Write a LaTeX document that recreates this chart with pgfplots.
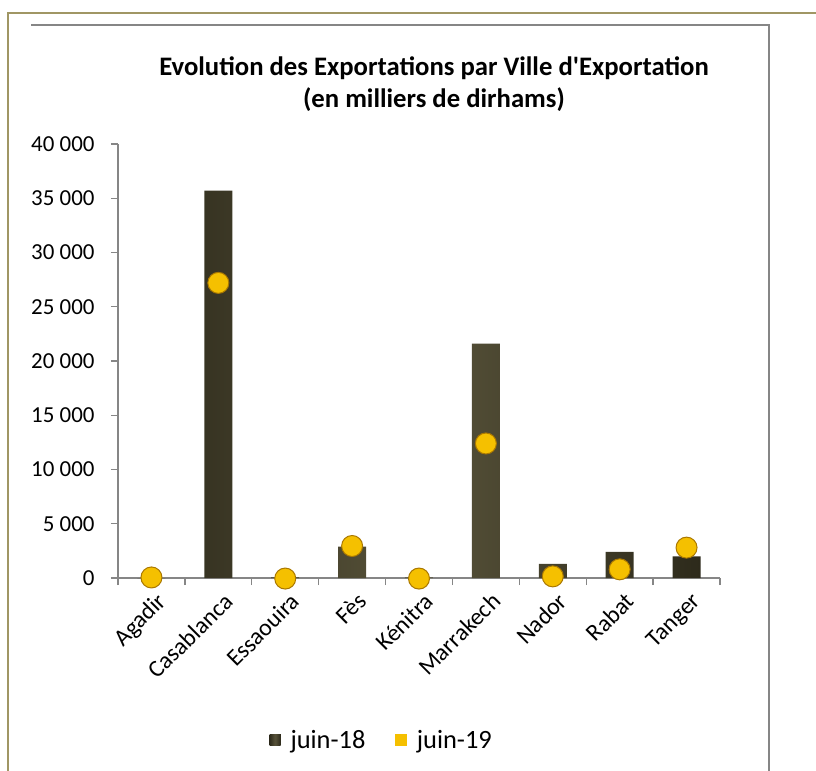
\documentclass[border=0pt]{standalone}
\usepackage{pgfplots}
\pgfplotsset{compat=1.18}
\usepackage{fontspec}
\setmainfont{Carlito}
\definecolor{bardark}{RGB}{45,42,27}
\definecolor{barmid}{RGB}{88,83,58}
\definecolor{gold}{RGB}{245,192,0}
\definecolor{golddark}{RGB}{170,120,0}
\definecolor{olive}{RGB}{160,150,100}
\definecolor{axgray}{RGB}{134,134,134}
\begin{document}
\begin{tikzpicture}
\path[use as bounding box] (0,0) rectangle (816bp,-771bp);
% frames
\draw[olive, line width=2.2bp] (8bp,-771bp) -- (8bp,-13bp) -- (816bp,-13bp);
\draw[axgray, line width=1.5bp] (31bp,-25bp) -- (769bp,-25bp) -- (769bp,-771bp);
% title
\node[align=center, font=\fontsize{26.8}{32}\selectfont\bfseries] at (434bp,-84bp)
  {Evolution des Exportations par Ville d\textquotesingle Exportation\\(en milliers de dirhams)};
\begin{axis}[
  scale only axis,
  width=602bp, height=434bp,
  at={(118bp,-578bp)}, anchor=south west,
  xmin=-0.5, xmax=8.5,
  ymin=0, ymax=40000,
  scaled y ticks=false,
  clip=false,
  axis lines*=left,
  axis line style={draw=axgray, line width=1.4bp},
  tick align=outside,
  xtick={0,...,8},
  xticklabels={Agadir,Casablanca,Essaouira,Fès,Kénitra,Marrakech,Nador,Rabat,Tanger},
  major x tick style={draw=none},
  minor xtick={-0.5,0.5,...,8.5},
  minor tick length=7bp,
  major tick length=7bp,
  every tick/.style={draw=axgray, line width=1.4bp},
  ytick={0,5000,...,40000},
  yticklabels={0,5 000,10 000,15 000,20 000,25 000,30 000,35 000,40 000},
  yticklabel style={font=\fontsize{23}{23}\selectfont, xshift=-13bp},
  xticklabel style={font=\fontsize{24}{24}\selectfont, rotate=45, anchor=north east, xshift=2bp, yshift=-4bp},
  legend style={at={(0.438,-0.373)}, anchor=center, draw=none, fill=none,
    font=\fontsize{26.5}{26.5}\selectfont, legend columns=2,
    /tikz/every odd column/.append style={column sep=8bp},
    /tikz/every even column/.append style={column sep=28bp}},
  legend cell align=left,
]
\addplot[ybar, bar width=28bp, draw=none, left color=bardark, right color=bardark, middle color=barmid,
  legend image code/.code={\fill[bardark] (0bp,-5.5bp) rectangle (11bp,5.5bp);}]
  coordinates {(0,0) (1,35700) (2,60) (3,2900) (4,60) (5,21600) (6,1300) (7,2400) (8,2000)};
\addlegendentry{juin-18}
\addplot[only marks, mark=*, mark size=10.5bp, mark options={fill=gold, draw=golddark, line width=1bp},
  legend image code/.code={\fill[gold] (0bp,-5.5bp) rectangle (11bp,5.5bp);}]
  coordinates {(0,50) (1,27200) (2,-50) (3,2950) (4,-50) (5,12400) (6,150) (7,800) (8,2800)};
\addlegendentry{juin-19}
\end{axis}
\end{tikzpicture}
\end{document}
